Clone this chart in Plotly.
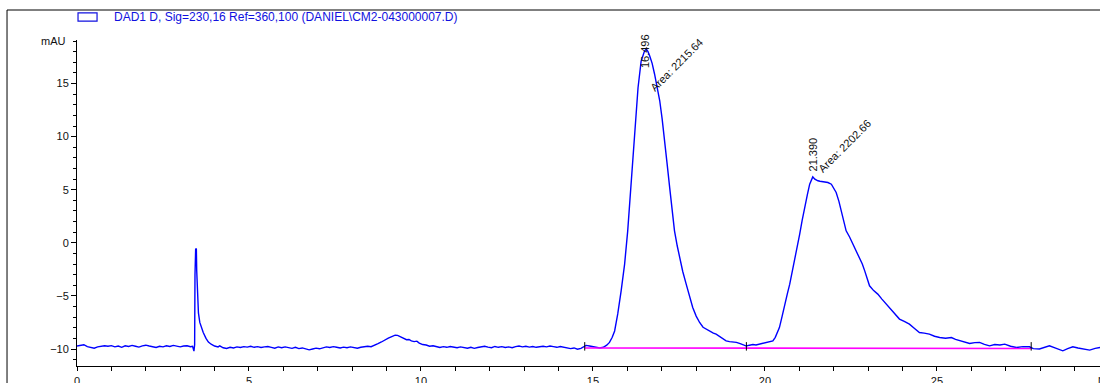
import plotly.graph_objects as go

# ---- data ----
time_min = [
    0.00, 0.10, 0.20, 0.30, 0.40, 0.50, 0.60, 0.70, 0.80, 0.90,
    1.00, 1.10, 1.20, 1.30, 1.40, 1.50, 1.60, 1.70, 1.80, 1.90,
    2.00, 2.10, 2.20, 2.30, 2.40, 2.50, 2.60, 2.70, 2.80, 2.90,
    3.00, 3.10, 3.20, 3.30, 3.36, 3.40, 3.42, 3.43, 3.45, 3.47,
    3.48, 3.50, 3.53, 3.57, 3.62, 3.67, 3.75, 3.82, 3.90, 4.00,
    4.10, 4.15, 4.25, 4.35, 4.45, 4.55, 4.65, 4.75, 4.85, 4.95,
    5.05, 5.15, 5.25, 5.35, 5.45, 5.55, 5.65, 5.75, 5.85, 5.95,
    6.05, 6.15, 6.25, 6.35, 6.45, 6.55, 6.65, 6.75, 6.85, 6.95,
    7.05, 7.15, 7.25, 7.35, 7.45, 7.55, 7.65, 7.75, 7.85, 7.95,
    8.05, 8.15, 8.25, 8.35, 8.45, 8.55, 8.65, 8.75, 8.85, 8.95,
    9.05, 9.15, 9.25, 9.32, 9.40, 9.50, 9.58, 9.65, 9.72, 9.80,
    9.88, 9.95, 10.05, 10.15, 10.25, 10.35, 10.45, 10.55, 10.65, 10.75,
    10.85, 10.95, 11.05, 11.15, 11.25, 11.35, 11.45, 11.55, 11.65, 11.75,
    11.85, 11.95, 12.05, 12.15, 12.25, 12.35, 12.45, 12.55, 12.65, 12.75,
    12.85, 12.95, 13.05, 13.15, 13.25, 13.35, 13.45, 13.55, 13.65, 13.75,
    13.85, 13.95, 14.05, 14.15, 14.25, 14.35, 14.45, 14.55, 14.65, 14.72,
    14.80, 14.90, 15.00, 15.10, 15.20, 15.30, 15.40, 15.48, 15.56, 15.63,
    15.72, 15.82, 15.92, 16.01, 16.11, 16.21, 16.31, 16.40, 16.50, 16.55,
    16.60, 16.65, 16.72, 16.79, 16.86, 16.94, 17.01, 17.08, 17.15, 17.23,
    17.30, 17.37, 17.45, 17.52, 17.61, 17.71, 17.80, 17.90, 18.00, 18.10,
    18.20, 18.29, 18.40, 18.50, 18.58, 18.70, 18.80, 18.87, 18.97, 19.07,
    19.17, 19.28, 19.38, 19.46, 19.55, 19.65, 19.74, 19.84, 19.94, 20.04,
    20.13, 20.23, 20.30, 20.36, 20.42, 20.50, 20.57, 20.65, 20.72, 20.79,
    20.86, 20.94, 21.01, 21.08, 21.15, 21.23, 21.30, 21.35, 21.39, 21.45,
    21.50, 21.54, 21.60, 21.68, 21.75, 21.83, 21.93, 22.00, 22.07, 22.15,
    22.22, 22.29, 22.36, 22.46, 22.56, 22.66, 22.75, 22.83, 22.90, 22.97,
    23.04, 23.16, 23.28, 23.40, 23.53, 23.65, 23.77, 23.91, 24.05, 24.20,
    24.34, 24.49, 24.63, 24.78, 24.93, 25.08, 25.25, 25.42, 25.54, 25.66,
    25.80, 25.95, 26.10, 26.24, 26.38, 26.53, 26.68, 26.83, 26.97, 27.14,
    27.31, 27.50, 27.69, 27.80, 27.98, 28.12, 28.27, 28.45, 28.66, 28.80,
    28.95, 29.10, 29.25, 29.44, 29.60, 29.74,
]
signal_mau = [
    -9.72, -9.65, -9.60, -9.78, -9.85, -9.92, -9.80, -9.76, -9.70, -9.74,
    -9.68, -9.80, -9.72, -9.84, -9.70, -9.76, -9.66, -9.74, -9.82, -9.70,
    -9.64, -9.72, -9.78, -9.86, -9.74, -9.80, -9.70, -9.76, -9.66, -9.74,
    -9.80, -9.72, -9.70, -9.78, -9.74, -10.20, -9.60, -3.00, -0.55, -0.60,
    -2.60, -5.20, -6.60, -7.50, -8.10, -8.45, -9.00, -9.35, -9.55, -9.72,
    -9.80, -9.70, -9.88, -9.95, -9.84, -9.90, -9.80, -9.86, -9.78, -9.82,
    -9.74, -9.84, -9.78, -9.86, -9.80, -9.76, -9.84, -9.92, -9.80, -9.88,
    -9.80, -9.86, -9.94, -9.84, -9.96, -9.90, -10.02, -10.08, -10.00, -9.92,
    -9.98, -9.88, -9.80, -9.86, -9.78, -9.84, -9.90, -9.82, -9.88, -9.80,
    -9.86, -9.92, -9.84, -9.80, -9.74, -9.78, -9.66, -9.50, -9.34, -9.14,
    -8.98, -8.84, -8.70, -8.72, -8.86, -9.00, -9.12, -9.10, -9.24, -9.30,
    -9.26, -9.44, -9.58, -9.62, -9.74, -9.70, -9.80, -9.86, -9.78, -9.84,
    -9.76, -9.82, -9.88, -9.80, -9.86, -9.92, -9.84, -9.94, -9.86, -9.80,
    -9.74, -9.82, -9.88, -9.76, -9.84, -9.78, -9.86, -9.80, -9.88, -9.78,
    -9.72, -9.80, -9.74, -9.82, -9.76, -9.84, -9.78, -9.74, -9.80, -9.72,
    -9.78, -9.84, -9.76, -9.82, -9.88, -9.96, -9.90, -10.02, -9.94, -9.80,
    -9.66, -9.72, -9.80, -9.86, -9.90, -9.84, -9.64, -9.38, -8.90, -8.30,
    -6.70, -4.50, -2.00, 1.13, 5.84, 10.50, 14.60, 17.10, 18.08, 18.24,
    18.00, 17.60, 16.90, 15.90, 14.80, 13.40, 11.70, 9.90, 7.60, 5.20,
    3.00, 1.13, -0.30, -1.38, -2.70, -3.89, -5.00, -6.09, -6.90, -7.50,
    -7.95, -8.13, -8.35, -8.50, -8.60, -8.85, -9.10, -9.23, -9.30, -9.34,
    -9.38, -9.50, -9.62, -9.72, -9.64, -9.58, -9.62, -9.54, -9.50, -9.44,
    -9.38, -9.23, -8.90, -8.40, -7.98, -6.90, -5.77, -4.80, -3.89, -2.80,
    -1.69, -0.40, 0.82, 2.10, 3.32, 4.50, 5.52, 6.00, 6.21, 6.00,
    5.90, 5.84, 5.80, 5.77, 5.72, 5.68, 5.52, 5.10, 4.74, 3.90,
    3.01, 2.10, 1.13, 0.55, -0.12, -0.70, -1.38, -2.00, -2.64, -3.40,
    -4.05, -4.50, -4.83, -5.30, -5.77, -6.25, -6.71, -7.18, -7.40, -7.66,
    -8.05, -8.45, -8.50, -8.60, -8.80, -8.92, -8.98, -8.92, -9.10, -9.23,
    -9.36, -9.48, -9.40, -9.38, -9.56, -9.70, -9.58, -9.62, -9.54, -9.74,
    -9.86, -9.78, -9.79, -9.96, -10.00, -9.86, -9.70, -9.92, -10.17, -9.96,
    -9.79, -9.90, -10.02, -10.10, -9.94, -9.86,
]

# integration baseline and event marks
baseline_time = [14.76, 27.74]
baseline_level = [-9.90, -9.95]
event_times = [14.76, 19.46, 27.74]

# peak labels
peak_rt = [16.496, 21.390]
peak_area = [2215.64, 2202.66]
rt_label_y = [18.1, 8.3]
area_label_x = [17.42, 22.31]
area_label_y = [16.76, 9.13]

legend_text = "DAD1 D, Sig=230,16 Ref=360,100 (DANIEL\\CM2-043000007.D)"

FONT = "Liberation Sans, Arial, sans-serif"

fig = go.Figure()
fig.add_trace(go.Scatter(
    x=time_min, y=signal_mau, mode="lines",
    line=dict(color="#0000ff", width=1.4), showlegend=False, hoverinfo="skip"))
fig.add_trace(go.Scatter(
    x=baseline_time, y=baseline_level, mode="lines",
    line=dict(color="#ff00ff", width=1.6), showlegend=False, hoverinfo="skip"))

ev_x, ev_y = [], []
for t in event_times:
    ev_x += [t, t, None]
    ev_y += [-10.15, -9.35, None]
fig.add_trace(go.Scatter(
    x=ev_x, y=ev_y, mode="lines",
    line=dict(color="black", width=1), showlegend=False, hoverinfo="skip"))

annotations = []
for rt, ry, area, ax, ay in zip(peak_rt, rt_label_y, peak_area, area_label_x, area_label_y):
    annotations.append(dict(
        x=rt, y=ry, xref="x", yref="y", text=f"{rt:.3f}", showarrow=False,
        textangle=-90, font=dict(family=FONT, size=11, color="#111")))
    annotations.append(dict(
        x=ax, y=ay, xref="x", yref="y", text=f"Area: {area:.2f}", showarrow=False,
        textangle=-45, font=dict(family=FONT, size=11, color="#111")))

annotations.append(dict(
    x=0, y=19, xref="paper", yref="y", text="mAU", showarrow=False,
    xanchor="right", yanchor="middle", xshift=-9,
    font=dict(family=FONT, size=11, color="#111")))
annotations.append(dict(
    x=1, y=0, xref="paper", yref="paper", text="min", showarrow=False,
    xanchor="left", yanchor="top", xshift=-4, yshift=-5,
    font=dict(family=FONT, size=11, color="#111")))
annotations.append(dict(
    x=0.0342, y=1.0706, xref="paper", yref="paper", text=legend_text,
    showarrow=False, xanchor="left", yanchor="middle",
    font=dict(family=FONT, size=12, color="#1010e0")))

shapes = [
    # legend swatch
    dict(type="rect", xref="paper", yref="paper", x0=0.001, x1=0.0196,
         y0=1.058, y1=1.083, line=dict(color="#1010e0", width=1.2),
         fillcolor="rgba(0,0,0,0)"),
    # outer frame (top and left)
    dict(type="line", xref="paper", yref="paper", x0=-0.0684, x1=1.01,
         y0=1.092, y1=1.092, line=dict(color="black", width=1)),
    dict(type="line", xref="paper", yref="paper", x0=-0.0684, x1=-0.0684,
         y0=1.092, y1=-0.08, line=dict(color="black", width=1)),
]

fig.update_layout(
    width=1100, height=383, autosize=False,
    margin=dict(l=77, r=0, t=40, b=17),
    paper_bgcolor="white", plot_bgcolor="white",
    font=dict(family=FONT, size=11, color="#111"),
    annotations=annotations, shapes=shapes, showlegend=False,
)
fig.update_xaxes(
    range=[0, 29.74], tick0=0, dtick=5, ticks="outside", ticklen=4,
    tickcolor="black", showline=True, linecolor="black", linewidth=1,
    showgrid=False, zeroline=False, ticklabelstandoff=1, automargin=False,
    minor=dict(dtick=1, tick0=0, ticks="outside", ticklen=4, tickcolor="black", showgrid=False),
    tickfont=dict(family=FONT, size=11, color="#111"))
fig.update_yaxes(
    range=[-11.6, 19.1], tick0=0, dtick=5, ticks="outside", ticklen=5,
    tickcolor="black", showline=True, linecolor="black", linewidth=1,
    showgrid=False, zeroline=False, automargin=False,
    minor=dict(dtick=1, tick0=0, ticks="outside", ticklen=3, tickcolor="black", showgrid=False),
    tickfont=dict(family=FONT, size=11, color="#111"))

fig.write_html("out.html")
